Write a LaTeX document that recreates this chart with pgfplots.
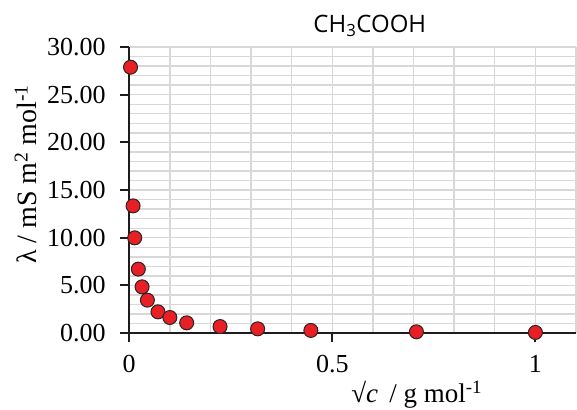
\documentclass[border=0pt]{standalone}
\usepackage{pgfplots}
\pgfplotsset{compat=1.18}
\usepackage{fontspec}
\setmainfont{Liberation Serif}
\newfontfamily\titlefont{Open Sans}
\definecolor{mkred}{RGB}{232,32,38}
\definecolor{mkedge}{RGB}{45,35,35}
\definecolor{gridgray}{RGB}{216,216,216}
\definecolor{axblack}{RGB}{30,28,28}
\begin{document}
\begin{tikzpicture}
\begin{axis}[
  set layers=standard,
  at={(129.3pt,76.7pt)}, anchor=south west,
  width=447pt, height=286.3pt, scale only axis,
  xmin=0, xmax=1.1, ymin=0, ymax=30,
  axis lines=left,
  axis line style={-, axblack, line width=2pt},
  xtick={0,0.5,1}, xticklabels={0,0.5,1},
  ytick={0,5,10,15,20,25,30},
  yticklabel={\pgfmathprintnumber[fixed,fixed zerofill,precision=2]{\tick}},
  /pgf/number format/assume math mode=true,
  minor xtick={0,0.1,0.2,0.3,0.4,0.5,0.6,0.7,0.8,0.9,1.0,1.1},
  minor ytick={0,1,...,30},
  grid=minor,
  minor grid style={gridgray, line width=1.4pt},
  minor tick length=0pt,
  tick align=outside,
  major tick length=9pt,
  major tick style={axblack, line width=2pt},
  ticklabel style={font=\fontsize{26}{26}\selectfont},
  xticklabel style={yshift=-10pt},
  yticklabel style={xshift=-11pt},
  clip=false,
]
\addplot[only marks, mark=*, mark size=7pt, mark options={fill=mkred, draw=mkedge, line width=1pt}]
coordinates {
(0.0032,27.88) (0.0095,13.34) (0.0135,9.99) (0.0224,6.71) (0.0316,4.85)
(0.0447,3.46) (0.0707,2.23) (0.1,1.64) (0.1414,1.08) (0.2236,0.69)
(0.3162,0.45) (0.4472,0.28) (0.7071,0.14) (1.0,0.07)
};
\end{axis}
\node[anchor=base, inner sep=0pt, font=\titlefont\fontsize{24}{24}\selectfont] at (370pt,377pt) {CH\textsubscript{3}COOH};
\node[anchor=base, inner sep=0pt, font=\fontsize{27}{27}\selectfont] at (417pt,7pt) {√\textit{c}\, / g mol\textsuperscript{-1}};
\node[rotate=90, anchor=base, inner sep=0pt, font=\fontsize{28}{28}\selectfont] at (36.7pt,235.5pt) {λ / mS m\textsuperscript{2} mol\textsuperscript{-1}};
\path (0pt,0pt) rectangle (577pt,410pt);
\end{tikzpicture}
\end{document}
